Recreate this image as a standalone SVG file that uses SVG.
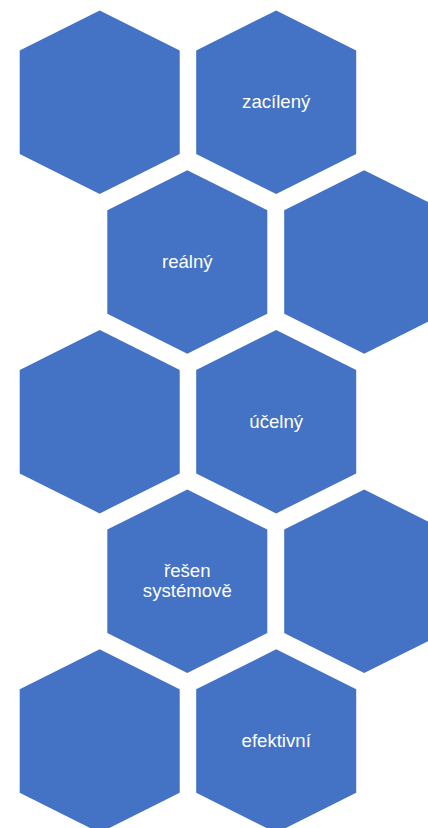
<svg xmlns="http://www.w3.org/2000/svg" width="428" height="828" viewBox="0 0 428 828">
<defs>
<style>
.hex{fill:#4472C4}
.t{font-family:"Liberation Sans",Arial,sans-serif;font-size:18.6px;fill:#ffffff;text-anchor:middle}
</style>
<polygon id="h" points="0,0 80,40 80,143.5 0,183.5 -80,143.5 -80,40"/>
</defs>
<rect width="428" height="828" fill="#ffffff"/>
<g id="n1"><use href="#h" class="hex" x="99.7" y="10.5"/></g>
<g id="n2"><use href="#h" class="hex" x="276.2" y="10.5"/><text class="t" x="276.2" y="108">zacílený</text></g>
<g id="n3"><use href="#h" class="hex" x="187.3" y="170.2"/><text class="t" x="187.3" y="267.5">reálný</text></g>
<g id="n4"><use href="#h" class="hex" x="364.2" y="170.2"/></g>
<g id="n5"><use href="#h" class="hex" x="99.7" y="329.9"/></g>
<g id="n6"><use href="#h" class="hex" x="276.2" y="329.9"/><text class="t" x="276.2" y="427.5">účelný</text></g>
<g id="n7"><use href="#h" class="hex" x="187.3" y="489.6"/><text class="t" x="187.3" y="577">řešen</text><text class="t" x="187.3" y="597">systémově</text></g>
<g id="n8"><use href="#h" class="hex" x="364.2" y="489.6"/></g>
<g id="n9"><use href="#h" class="hex" x="99.7" y="649.3"/></g>
<g id="n10"><use href="#h" class="hex" x="276.2" y="649.3"/><text class="t" x="276.2" y="746.5">efektivní</text></g>
<g id="connectors"/>
</svg>
